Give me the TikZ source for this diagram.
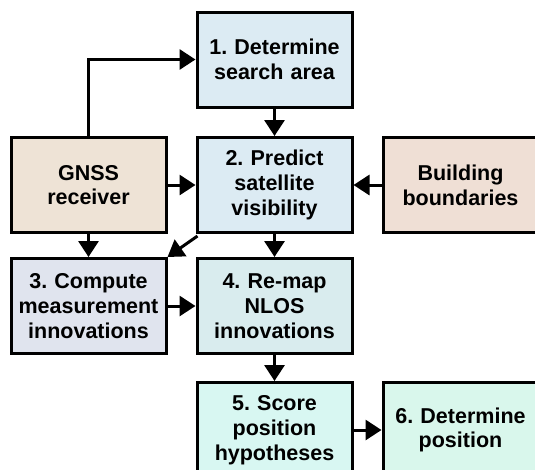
\documentclass[tikz,border=0pt]{standalone}
\usepackage{fontspec}
\setmainfont{Liberation Sans}
\usetikzlibrary{arrows.meta}
\definecolor{cA}{HTML}{DCEBF3}
\definecolor{cG}{HTML}{EEE3D6}
\definecolor{cB}{HTML}{EFDFD5}
\definecolor{cC}{HTML}{E0E4EE}
\definecolor{cD}{HTML}{D9ECEE}
\definecolor{cE}{HTML}{D8F7F2}
\definecolor{cF}{HTML}{D9F7EC}
\frenchspacing
\begin{document}
\begin{tikzpicture}[x=1pt,y=-1pt,
  box/.style={draw=black,line width=3pt,minimum width=155pt,minimum height=95pt,
    inner sep=0pt,align=center,text width=150pt,
    font=\fontsize{21.5}{24.8}\selectfont\bfseries},
  conn/.style={line width=3pt,-{Triangle[width=20pt,length=16pt]}}]
\useasboundingbox (0,0) rectangle (535,469);
\node[box,fill=cA] (n1) at (274.5,59.5) {1. Determine\\search area};
\node[box,fill=cA] (n2) at (274.5,185) {2. Predict\\satellite\\visibility};
\node[box,fill=cG] (g) at (88.5,185) {GNSS\\receiver};
\node[box,fill=cB] (b) at (460.5,185) {Building\\boundaries};
\node[box,fill=cC] (n3) at (88.5,306) {3. Compute\\measurement\\innovations};
\node[box,fill=cD] (n4) at (274.5,306) {4. Re-map\\NLOS\\innovations};
\node[box,fill=cE] (n5) at (274.5,430) {5. Score\\position\\hypotheses};
\node[box,fill=cF] (n6) at (460.5,430) {6. Determine\\position};
\draw[conn] (g.north) |- (n1.west);
\draw[conn] (n1) -- (n2);
\draw[conn] (g) -- (n2);
\draw[conn] (b) -- (n2);
\draw[conn] (g) -- (n3);
\draw[conn] ([shift={(2pt,-2pt)}]n2.south west) -- (n3.north east);
\draw[conn] (n2) -- (n4);
\draw[conn] (n3) -- (n4);
\draw[conn] (n4) -- (n5);
\draw[conn] (n5) -- (n6);
\end{tikzpicture}
\end{document}
